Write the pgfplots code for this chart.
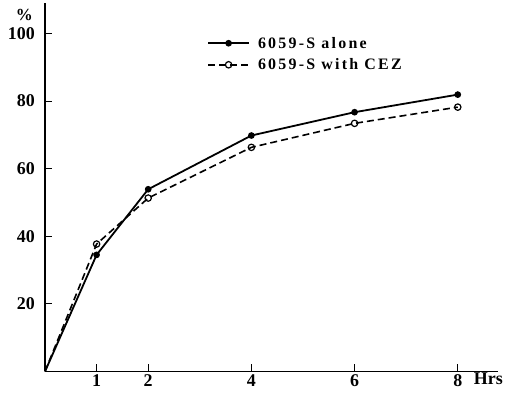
\documentclass[border=0pt]{standalone}
\usepackage{fontspec}
\setmainfont{Liberation Serif}
\newfontfamily\legfont[LetterSpace=14]{Liberation Serif}
\usepackage{pgfplots}
\pgfplotsset{compat=1.18}
\begin{document}
\begin{tikzpicture}
\begin{axis}[
  scale only axis, width=453bp, height=368.5bp,
  xmin=0, xmax=8.78, ymin=0, ymax=109,
  axis x line=bottom, axis y line=left,
  axis line style={-, line width=1.2bp},
  xtick={1,2,4,6,8}, ytick={20,40,60,80,100},
  tick align=inside, major tick length=7.5bp,
  tick style={line width=1bp, black},
  /pgf/number format/assume math mode=true,
  ticklabel style={font=\fontsize{18}{18}\selectfont\bfseries},
  xticklabel style={inner sep=0pt, yshift=-2.5bp},
  yticklabel style={inner sep=0pt, xshift=-10bp},
  legend style={at={(axis cs:3.14,99.6)}, anchor=north west, draw=none, fill=none,
    font=\legfont\bfseries\fontsize{16}{16}\selectfont, row sep=5bp, inner sep=0pt,
    nodes={inner xsep=8bp}},
  legend cell align=left,
  legend image code/.code={\draw[#1, mark indices={2}] plot coordinates {(0bp,0bp) (20.5bp,0bp) (41bp,0bp)};},
  clip=false,
]
\addplot[black, line width=1.8bp, mark=*, mark size=2.4bp, mark indices={2,3,4,5,6}, mark options={solid, fill=black}]
  coordinates {(0,0) (1,34.5) (2,53.9) (4,69.8) (6,76.7) (8,81.9)};
\addlegendentry{6059-S alone}
\addplot[black, line width=1.6bp, dash pattern=on 7bp off 4bp, mark=o, mark size=3.2bp, mark indices={2,3,4,5,6}, mark options={solid, fill=white, line width=1.2bp}]
  coordinates {(0,0) (1,37.7) (2,51.3) (4,66.3) (6,73.4) (8,78.2)};
\addlegendentry{6059-S with CEZ}
\node[anchor=base east, inner sep=0pt, font=\fontsize{17}{17}\selectfont\bfseries] at ([xshift=-12bp, yshift=13bp]axis cs:0,100) {\%};
\node[anchor=base west, inner sep=0pt, font=\fontsize{18}{18}\selectfont\bfseries] at ([xshift=16bp, yshift=-13.5bp]axis cs:8,0) {Hrs};
\end{axis}
\pgfresetboundingbox
\path ([xshift=-45bp, yshift=-27.5bp]current axis.south west) rectangle ([xshift=10bp, yshift=3bp]current axis.north east);
\end{tikzpicture}
\end{document}
